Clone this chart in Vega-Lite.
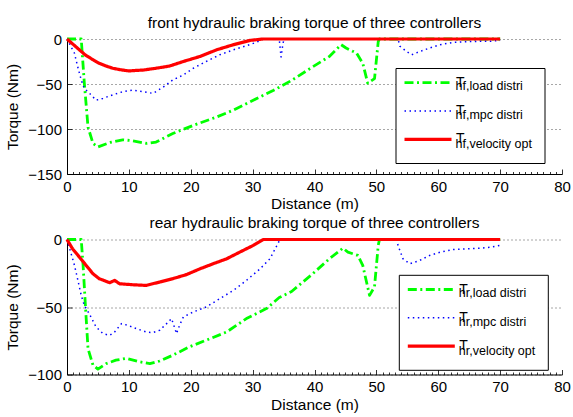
{
 "$schema": "https://vega.github.io/schema/vega-lite/v6.json",
 "background": "white",
 "padding": {"left": 5, "top": 15, "right": 2, "bottom": 0},
 "spacing": 3.5,
 "config": {
  "font": "Liberation Sans",
  "view": {"stroke": null},
  "axis": {"labelFont": "Liberation Sans", "labelFontSize": 15, "labelColor": "black", "titleFont": "Liberation Sans", "titleFontSize": 15.5, "titleFontWeight": "normal", "titleColor": "black", "domainColor": "black", "domainWidth": 1, "tickColor": "black", "tickWidth": 0.8, "gridColor": "#222", "gridDash": [1, 3], "gridWidth": 0.8},
  "axisX": {"labelPadding": 10, "titlePadding": 0, "labelFlush": false, "labelOverlap": false, "labelExpr": "datum.value % 10 === 0 ? datum.label : ''", "tickSize": {"condition": {"test": "datum.value % 10 === 0", "value": -5}, "value": -2.5}, "gridOpacity": {"condition": {"test": "datum.value % 10 === 0", "value": 1}, "value": 0}},
  "axisY": {"titlePadding": 7, "tickSize": -5, "labelPadding": 10.5},
  "title": {"font": "Liberation Sans", "fontSize": 15.5, "fontWeight": "normal", "color": "black", "offset": 1, "anchor": "middle", "frame": "group"},
  "legend": {"orient": "none", "symbolType": "M-4.7,0H4.7", "symbolSize": 100, "symbolOffset": 15.5, "labelFont": "Liberation Sans", "labelColor": "black", "labelLimit": 300}
 },
 "datasets": {
  "front": [
   {"d":0,"t":0,"s":"hf,load distri"},{"d":2.3,"t":0,"s":"hf,load distri"},{"d":2.8,"t":-49,"s":"hf,load distri"},{"d":3.4,"t":-98,"s":"hf,load distri"},{"d":4.2,"t":-116,"s":"hf,load distri"},{"d":5,"t":-120,"s":"hf,load distri"},{"d":6.9,"t":-115,"s":"hf,load distri"},{"d":9,"t":-112,"s":"hf,load distri"},{"d":10.6,"t":-113,"s":"hf,load distri"},{"d":12.8,"t":-116,"s":"hf,load distri"},{"d":14.4,"t":-114.5,"s":"hf,load distri"},{"d":17.1,"t":-105,"s":"hf,load distri"},{"d":20.4,"t":-96,"s":"hf,load distri"},{"d":24.2,"t":-86.6,"s":"hf,load distri"},{"d":26.9,"t":-79,"s":"hf,load distri"},{"d":30.1,"t":-68,"s":"hf,load distri"},{"d":33.4,"t":-57,"s":"hf,load distri"},{"d":36.3,"t":-46,"s":"hf,load distri"},{"d":39.7,"t":-31,"s":"hf,load distri"},{"d":42.4,"t":-19.4,"s":"hf,load distri"},{"d":44.3,"t":-6.3,"s":"hf,load distri"},{"d":45.1,"t":-10,"s":"hf,load distri"},{"d":46.8,"t":-15.7,"s":"hf,load distri"},{"d":47.8,"t":-27,"s":"hf,load distri"},{"d":48.6,"t":-49,"s":"hf,load distri"},{"d":49.7,"t":-44,"s":"hf,load distri"},{"d":50.3,"t":-3,"s":"hf,load distri"},{"d":50.5,"t":0,"s":"hf,load distri"},{"d":70,"t":0,"s":"hf,load distri"},
   {"d":0,"t":0,"s":"hf,mpc distri"},{"d":0.6,"t":-8,"s":"hf,mpc distri"},{"d":1.2,"t":-15.7,"s":"hf,mpc distri"},{"d":1.7,"t":-30,"s":"hf,mpc distri"},{"d":2.3,"t":-45.5,"s":"hf,mpc distri"},{"d":2.8,"t":-55,"s":"hf,mpc distri"},{"d":3.6,"t":-60,"s":"hf,mpc distri"},{"d":4.7,"t":-68,"s":"hf,mpc distri"},{"d":5.8,"t":-66,"s":"hf,mpc distri"},{"d":7.4,"t":-62,"s":"hf,mpc distri"},{"d":9,"t":-58.6,"s":"hf,mpc distri"},{"d":10.6,"t":-56.7,"s":"hf,mpc distri"},{"d":12.3,"t":-58.6,"s":"hf,mpc distri"},{"d":13.9,"t":-60.4,"s":"hf,mpc distri"},{"d":15.5,"t":-53.7,"s":"hf,mpc distri"},{"d":17.1,"t":-45.5,"s":"hf,mpc distri"},{"d":18.8,"t":-40,"s":"hf,mpc distri"},{"d":20.4,"t":-32.5,"s":"hf,mpc distri"},{"d":22.5,"t":-25,"s":"hf,mpc distri"},{"d":24.7,"t":-17.5,"s":"hf,mpc distri"},{"d":26.9,"t":-12,"s":"hf,mpc distri"},{"d":29,"t":-7.5,"s":"hf,mpc distri"},{"d":30.6,"t":-3.7,"s":"hf,mpc distri"},{"d":31.7,"t":0,"s":"hf,mpc distri"},{"d":34.3,"t":0,"s":"hf,mpc distri"},{"d":34.6,"t":-20,"s":"hf,mpc distri"},{"d":34.9,"t":-5,"s":"hf,mpc distri"},{"d":35.1,"t":0,"s":"hf,mpc distri"},{"d":53.5,"t":0,"s":"hf,mpc distri"},{"d":53.8,"t":-8,"s":"hf,mpc distri"},{"d":54.9,"t":-14,"s":"hf,mpc distri"},{"d":55.7,"t":-17.5,"s":"hf,mpc distri"},{"d":57,"t":-14,"s":"hf,mpc distri"},{"d":58.6,"t":-10,"s":"hf,mpc distri"},{"d":60.3,"t":-6.3,"s":"hf,mpc distri"},{"d":62.4,"t":-3.7,"s":"hf,mpc distri"},{"d":64.6,"t":-3,"s":"hf,mpc distri"},{"d":66.8,"t":-2.6,"s":"hf,mpc distri"},{"d":68.4,"t":-2.5,"s":"hf,mpc distri"},{"d":70,"t":-1.5,"s":"hf,mpc distri"},
   {"d":0,"t":0,"s":"hf,velocity opt"},{"d":1,"t":-6,"s":"hf,velocity opt"},{"d":2,"t":-12,"s":"hf,velocity opt"},{"d":3,"t":-18,"s":"hf,velocity opt"},{"d":4.2,"t":-23,"s":"hf,velocity opt"},{"d":5.2,"t":-27,"s":"hf,velocity opt"},{"d":6.3,"t":-30,"s":"hf,velocity opt"},{"d":7.4,"t":-32.5,"s":"hf,velocity opt"},{"d":8.5,"t":-34,"s":"hf,velocity opt"},{"d":10,"t":-35.5,"s":"hf,velocity opt"},{"d":11,"t":-35,"s":"hf,velocity opt"},{"d":12.3,"t":-34.5,"s":"hf,velocity opt"},{"d":14.4,"t":-32.5,"s":"hf,velocity opt"},{"d":16.6,"t":-30,"s":"hf,velocity opt"},{"d":18.8,"t":-25,"s":"hf,velocity opt"},{"d":21.5,"t":-19.4,"s":"hf,velocity opt"},{"d":24.2,"t":-12,"s":"hf,velocity opt"},{"d":26.9,"t":-6.3,"s":"hf,velocity opt"},{"d":29.6,"t":-1.5,"s":"hf,velocity opt"},{"d":31.7,"t":0,"s":"hf,velocity opt"},{"d":70,"t":0,"s":"hf,velocity opt"}
  ],
  "rear": [
   {"d":0,"t":0,"s":"hr,load distri"},{"d":2.3,"t":0,"s":"hr,load distri"},{"d":2.6,"t":-19,"s":"hr,load distri"},{"d":3,"t":-51,"s":"hr,load distri"},{"d":3.4,"t":-81,"s":"hr,load distri"},{"d":4.2,"t":-93,"s":"hr,load distri"},{"d":5,"t":-96,"s":"hr,load distri"},{"d":6.3,"t":-92,"s":"hr,load distri"},{"d":7.9,"t":-89.4,"s":"hr,load distri"},{"d":9.6,"t":-88,"s":"hr,load distri"},{"d":11.7,"t":-90.6,"s":"hr,load distri"},{"d":13.4,"t":-92,"s":"hr,load distri"},{"d":15,"t":-90,"s":"hr,load distri"},{"d":17.1,"t":-85.7,"s":"hr,load distri"},{"d":19.8,"t":-79.5,"s":"hr,load distri"},{"d":22.5,"t":-74.6,"s":"hr,load distri"},{"d":25.8,"t":-68.5,"s":"hr,load distri"},{"d":29,"t":-58.6,"s":"hr,load distri"},{"d":32.3,"t":-51,"s":"hr,load distri"},{"d":34.3,"t":-43,"s":"hr,load distri"},{"d":36.3,"t":-38.5,"s":"hr,load distri"},{"d":39.7,"t":-25.4,"s":"hr,load distri"},{"d":42.4,"t":-14.3,"s":"hr,load distri"},{"d":44.6,"t":-6.4,"s":"hr,load distri"},{"d":45.4,"t":-9.4,"s":"hr,load distri"},{"d":47,"t":-11.8,"s":"hr,load distri"},{"d":47.8,"t":-19.2,"s":"hr,load distri"},{"d":48.9,"t":-41.4,"s":"hr,load distri"},{"d":49.7,"t":-35,"s":"hr,load distri"},{"d":50.3,"t":-4.4,"s":"hr,load distri"},{"d":50.5,"t":0,"s":"hr,load distri"},{"d":70,"t":0,"s":"hr,load distri"},
   {"d":0,"t":0,"s":"hr,mpc distri"},{"d":0.6,"t":-9.4,"s":"hr,mpc distri"},{"d":1.2,"t":-19,"s":"hr,mpc distri"},{"d":1.7,"t":-29,"s":"hr,mpc distri"},{"d":2.3,"t":-41.4,"s":"hr,mpc distri"},{"d":2.8,"t":-48.8,"s":"hr,mpc distri"},{"d":3.6,"t":-55,"s":"hr,mpc distri"},{"d":4.7,"t":-64.8,"s":"hr,mpc distri"},{"d":5.8,"t":-69.7,"s":"hr,mpc distri"},{"d":6.9,"t":-71,"s":"hr,mpc distri"},{"d":7.7,"t":-68.5,"s":"hr,mpc distri"},{"d":8.8,"t":-62.3,"s":"hr,mpc distri"},{"d":9.8,"t":-63.5,"s":"hr,mpc distri"},{"d":11.2,"t":-66,"s":"hr,mpc distri"},{"d":12.8,"t":-68.5,"s":"hr,mpc distri"},{"d":13.9,"t":-69,"s":"hr,mpc distri"},{"d":15,"t":-67.2,"s":"hr,mpc distri"},{"d":16.1,"t":-62.3,"s":"hr,mpc distri"},{"d":16.9,"t":-58.6,"s":"hr,mpc distri"},{"d":17.7,"t":-69.7,"s":"hr,mpc distri"},{"d":18.2,"t":-63.5,"s":"hr,mpc distri"},{"d":18.8,"t":-57.4,"s":"hr,mpc distri"},{"d":20.4,"t":-53.7,"s":"hr,mpc distri"},{"d":22.5,"t":-50,"s":"hr,mpc distri"},{"d":24.7,"t":-43.8,"s":"hr,mpc distri"},{"d":26.9,"t":-37.7,"s":"hr,mpc distri"},{"d":29,"t":-30.3,"s":"hr,mpc distri"},{"d":31.2,"t":-21.7,"s":"hr,mpc distri"},{"d":32.8,"t":-14.3,"s":"hr,mpc distri"},{"d":34.2,"t":-2,"s":"hr,mpc distri"},{"d":34.4,"t":0,"s":"hr,mpc distri"},{"d":53.3,"t":0,"s":"hr,mpc distri"},{"d":53.5,"t":-4.4,"s":"hr,mpc distri"},{"d":54.3,"t":-14.3,"s":"hr,mpc distri"},{"d":55.4,"t":-18,"s":"hr,mpc distri"},{"d":57,"t":-15.5,"s":"hr,mpc distri"},{"d":58.6,"t":-11.8,"s":"hr,mpc distri"},{"d":60.3,"t":-9.4,"s":"hr,mpc distri"},{"d":62.4,"t":-7.4,"s":"hr,mpc distri"},{"d":64.6,"t":-6.9,"s":"hr,mpc distri"},{"d":66.8,"t":-6.4,"s":"hr,mpc distri"},{"d":68.4,"t":-5.7,"s":"hr,mpc distri"},{"d":70,"t":-4.4,"s":"hr,mpc distri"},
   {"d":0,"t":0,"s":"hr,velocity opt"},{"d":0.9,"t":-6.9,"s":"hr,velocity opt"},{"d":2,"t":-13,"s":"hr,velocity opt"},{"d":3.1,"t":-19.2,"s":"hr,velocity opt"},{"d":4.2,"t":-25.4,"s":"hr,velocity opt"},{"d":5.2,"t":-29,"s":"hr,velocity opt"},{"d":6.9,"t":-32,"s":"hr,velocity opt"},{"d":7.7,"t":-30.3,"s":"hr,velocity opt"},{"d":8.5,"t":-32.8,"s":"hr,velocity opt"},{"d":10.6,"t":-33.5,"s":"hr,velocity opt"},{"d":12.8,"t":-34,"s":"hr,velocity opt"},{"d":15,"t":-31.5,"s":"hr,velocity opt"},{"d":17.1,"t":-29,"s":"hr,velocity opt"},{"d":19.3,"t":-26,"s":"hr,velocity opt"},{"d":21.5,"t":-21.7,"s":"hr,velocity opt"},{"d":23.6,"t":-18,"s":"hr,velocity opt"},{"d":25.8,"t":-14.3,"s":"hr,velocity opt"},{"d":27.9,"t":-9.4,"s":"hr,velocity opt"},{"d":30.1,"t":-4.4,"s":"hr,velocity opt"},{"d":31.7,"t":0,"s":"hr,velocity opt"},{"d":70,"t":0,"s":"hr,velocity opt"}
  ]
 },
 "vconcat": [
  {
   "width": 495, "height": 135,
   "title": "front hydraulic braking torque of three controllers",
   "data": {"name": "front"},
   "mark": {"type": "line", "strokeCap": "butt", "strokeJoin": "round"},
   "encoding": {
    "x": {"field": "d", "type": "quantitative", "title": "Distance (m)", "scale": {"domain": [0, 80], "nice": false}, "axis": {"values": [0,1,2,3,4,5,6,7,8,9,10,11,12,13,14,15,16,17,18,19,20,21,22,23,24,25,26,27,28,29,30,31,32,33,34,35,36,37,38,39,40,41,42,43,44,45,46,47,48,49,50,51,52,53,54,55,56,57,58,59,60,61,62,63,64,65,66,67,68,69,70,71,72,73,74,75,76,77,78,79,80]}},
    "y": {"field": "t", "type": "quantitative", "title": "Torque (Nm)", "scale": {"domain": [-150, 0], "nice": false}, "axis": {"values": [-150, -100, -50, 0]}},
    "color": {"field": "s", "type": "nominal", "title": null, "scale": {"domain": ["hf,load distri", "hf,mpc distri", "hf,velocity opt"], "range": ["#00ff00", "#0000ff", "#ff0000"]}, "legend": {"legendX": 328.5, "legendY": 26.7, "padding": 10, "zindex": 2, "labelFontSize": 14, "rowPadding": 14.3, "labelOffset": 21, "labelExpr": "'T'"}},
    "strokeDash": {"field": "s", "type": "nominal", "title": null, "scale": {"domain": ["hf,load distri", "hf,mpc distri", "hf,velocity opt"], "range": [[9, 3.5, 2, 3.5], [1.5, 3.5], [1, 0]]}},
    "strokeWidth": {"field": "s", "type": "nominal", "title": null, "scale": {"type": "ordinal", "domain": ["hf,load distri", "hf,mpc distri", "hf,velocity opt"], "range": [2.8, 1.5, 3.2]}},
    "opacity": {"field": "s", "type": "nominal", "title": null, "scale": {"type": "ordinal", "range": [1, 1, 1]}, "legend": {"legendX": 328.5, "legendY": 29, "padding": 12, "zindex": 1, "strokeColor": "black", "fillColor": "white", "labelFontSize": 12.5, "rowPadding": 15.8, "labelOffset": 20, "symbolOpacity": 0, "symbolStrokeColor": "transparent", "symbolStrokeWidth": 0}}
   }
  },
  {
   "width": 495, "height": 135,
   "title": "rear hydraulic braking torque of three controllers",
   "data": {"name": "rear"},
   "mark": {"type": "line", "strokeCap": "butt", "strokeJoin": "round"},
   "encoding": {
    "x": {"field": "d", "type": "quantitative", "title": "Distance (m)", "scale": {"domain": [0, 80], "nice": false}, "axis": {"values": [0,1,2,3,4,5,6,7,8,9,10,11,12,13,14,15,16,17,18,19,20,21,22,23,24,25,26,27,28,29,30,31,32,33,34,35,36,37,38,39,40,41,42,43,44,45,46,47,48,49,50,51,52,53,54,55,56,57,58,59,60,61,62,63,64,65,66,67,68,69,70,71,72,73,74,75,76,77,78,79,80]}},
    "y": {"field": "t", "type": "quantitative", "title": "Torque (Nm)", "scale": {"domain": [-100, 0], "nice": false}, "axis": {"values": [-100, -50, 0]}},
    "color": {"field": "s", "type": "nominal", "title": null, "scale": {"domain": ["hr,load distri", "hr,mpc distri", "hr,velocity opt"], "range": ["#00ff00", "#0000ff", "#ff0000"]}, "legend": {"legendX": 331.8, "legendY": 33, "padding": 10, "zindex": 2, "labelFontSize": 14, "rowPadding": 14.3, "labelOffset": 21, "labelExpr": "'T'"}},
    "strokeDash": {"field": "s", "type": "nominal", "title": null, "scale": {"domain": ["hr,load distri", "hr,mpc distri", "hr,velocity opt"], "range": [[9, 3.5, 2, 3.5], [1.5, 3.5], [1, 0]]}},
    "strokeWidth": {"field": "s", "type": "nominal", "title": null, "scale": {"type": "ordinal", "domain": ["hr,load distri", "hr,mpc distri", "hr,velocity opt"], "range": [2.8, 1.5, 3.2]}},
    "opacity": {"field": "s", "type": "nominal", "title": null, "scale": {"type": "ordinal", "range": [1, 1, 1]}, "legend": {"legendX": 331.8, "legendY": 35.3, "padding": 12, "zindex": 1, "strokeColor": "black", "fillColor": "white", "labelFontSize": 12.5, "rowPadding": 15.8, "labelOffset": 20, "symbolOpacity": 0, "symbolStrokeColor": "transparent", "symbolStrokeWidth": 0}}
   }
  }
 ],
 "resolve": {"scale": {"color": "independent", "strokeDash": "independent", "strokeWidth": "independent", "opacity": "independent", "y": "independent"}, "legend": {"color": "independent", "strokeDash": "independent", "strokeWidth": "independent", "opacity": "independent"}}
}
